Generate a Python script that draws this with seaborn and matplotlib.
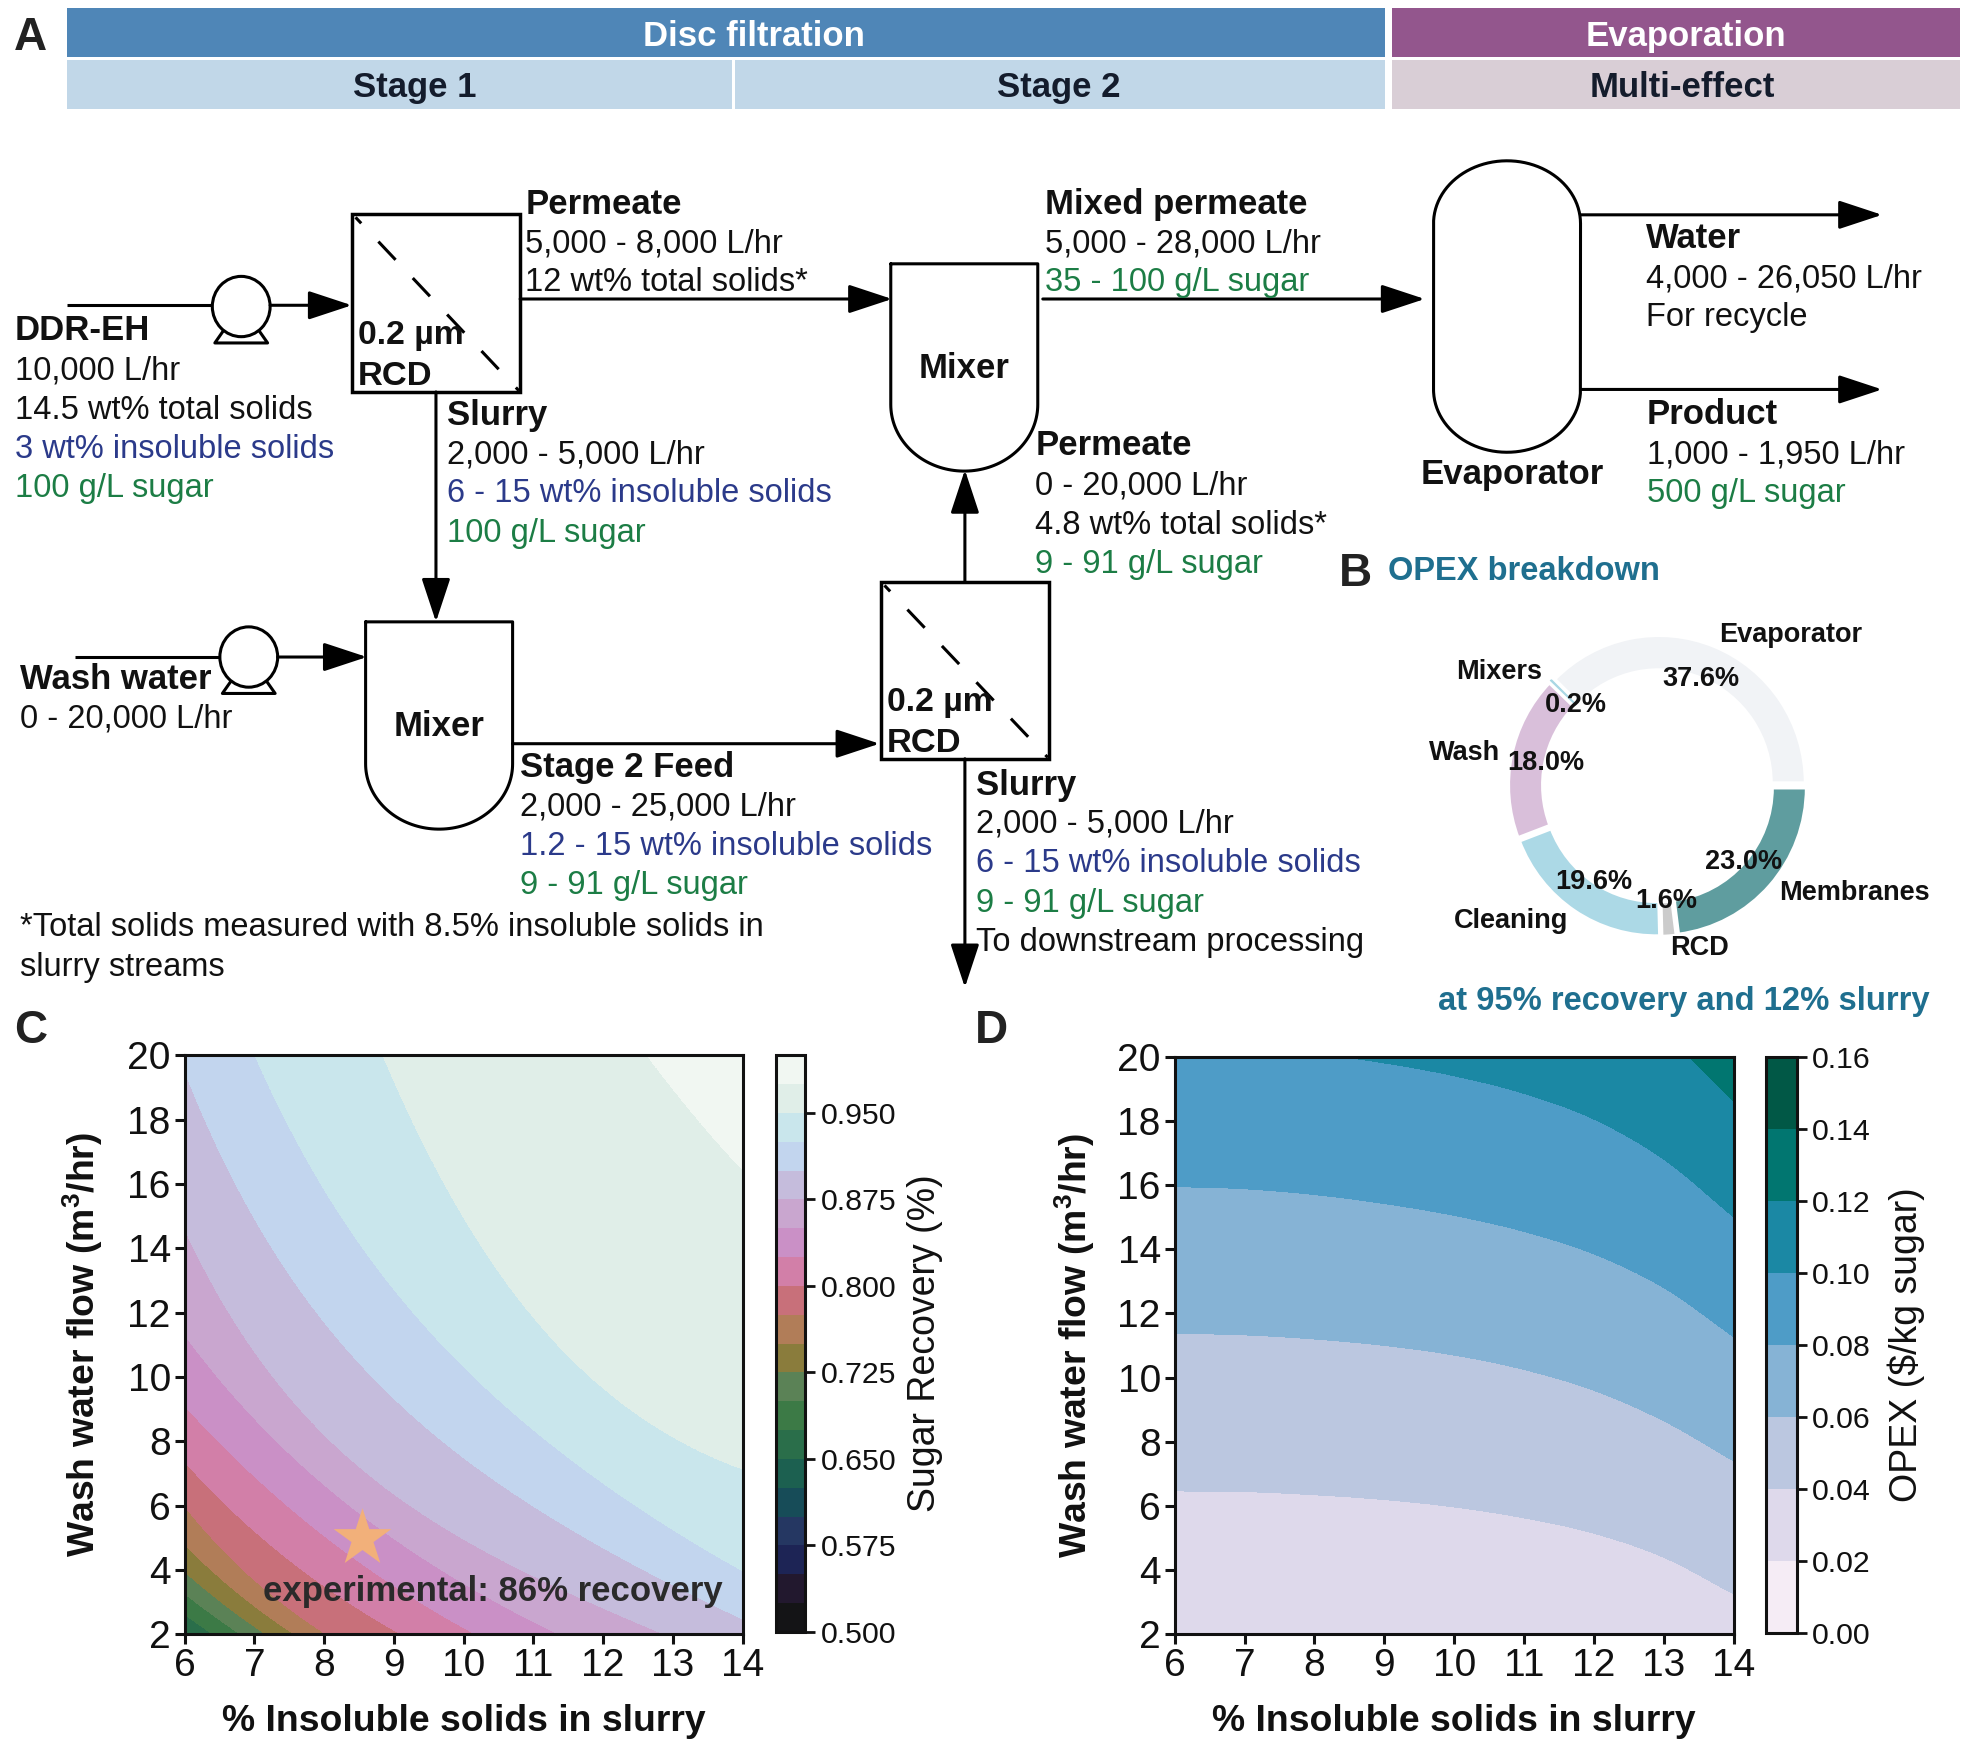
import numpy as np
import matplotlib
matplotlib.use("Agg")
import matplotlib.pyplot as plt
from matplotlib.colors import ListedColormap
from matplotlib.patches import Rectangle, Ellipse
import seaborn as sns

# ---------- data ----------
x_read = [6, 7, 8, 9, 10, 11, 12, 13, 14]

recovery_levels = [0.50, 0.65, 0.675, 0.70, 0.725, 0.75, 0.775, 0.80, 0.825, 0.85, 0.875, 0.90, 0.925, 0.95, 0.975, 1.0]
rec_low = [-60, -60, -60, -60, -60, -60, -60, -60, -60]
rec_650 = [2.1, 0.8, -0.6, -1.7, -2.6, -3.4, -4.1, -4.7, -5.3]
rec_675 = [2.55, 1.3, -0.1, -1.2, -2.1, -2.9, -3.6, -4.2, -4.8]
rec_700 = [3.2, 1.85, 0.4, -0.7, -1.6, -2.4, -3.1, -3.7, -4.3]
rec_725 = [3.95, 2.25, 0.9, -0.2, -1.1, -1.9, -2.6, -3.2, -3.8]
rec_750 = [4.8, 2.9, 1.4, 0.3, -0.6, -1.4, -2.1, -2.7, -3.3]
rec_775 = [5.9, 3.9, 1.9, 0.8, -0.1, -0.9, -1.6, -2.2, -2.8]
rec_800 = [7.3, 5.3, 3.6, 2.0, 1.0, 0.1, -0.7, -1.4, -2.0]
rec_825 = [9.1, 6.9, 5.1, 3.6, 2.1, 1.1, 0.2, -0.6, -1.3]
rec_850 = [11.4, 8.6, 6.6, 5.0, 3.7, 2.4, 1.3, 0.4, -0.4]
rec_875 = [14.65, 10.7, 8.2, 6.4, 5.0, 3.8, 2.8, 1.9, 1.0]
rec_900 = [19.6, 14.8, 11.7, 9.4, 7.5, 6.0, 4.7, 3.5, 2.5]
rec_925 = [26, 20.1, 15.7, 12.7, 10.4, 8.4, 6.7, 5.2, 4.0]
rec_950 = [40, 32, 25, 19.2, 14.8, 11.8, 9.7, 8.2, 7.1]
rec_975 = [48, 42, 36, 32, 28, 25, 22, 19, 16.4]
rec_top = [90, 90, 90, 90, 90, 90, 90, 90, 90]
recovery_curves = [rec_low, rec_650, rec_675, rec_700, rec_725, rec_750, rec_775, rec_800,
                   rec_825, rec_850, rec_875, rec_900, rec_925, rec_950, rec_975, rec_top]
recovery_edges = [0.5 + 0.025 * i for i in range(21)]
recovery_ticks = [0.5, 0.575, 0.65, 0.725, 0.8, 0.875, 0.95]
recovery_bands = ["#141416", "#22182e", "#1d2455", "#253762", "#174c58", "#1c6050", "#2a6e4a", "#3c7a46",
                  "#5b8256", "#8a7c3c", "#b17d58", "#c8707a", "#d27fa8", "#ca90c6", "#c9a6cf", "#c5bcdc",
                  "#c2d5ee", "#c9e6ec", "#e0eee8", "#f1f7f2"]

opex_levels = [0.0, 0.02, 0.04, 0.06, 0.08, 0.10, 0.12, 0.14, 0.16]
opex_000 = [-20, -20, -20, -20, -20, -20, -20, -20, -20]
opex_020 = [0.5, 0.5, 0.4, 0.3, 0.2, 0.1, 0.0, -0.2, -0.5]
opex_040 = [6.47, 6.45, 6.35, 6.2, 5.97, 5.63, 5.15, 4.4, 3.26]
opex_060 = [11.38, 11.33, 11.2, 11.0, 10.7, 10.25, 9.6, 8.65, 7.4]
opex_080 = [15.95, 15.88, 15.7, 15.42, 15.05, 14.55, 13.85, 12.8, 11.27]
opex_100 = [20.4, 20.3, 20.1, 19.8, 19.4, 18.85, 18.05, 16.8, 15.0]
opex_120 = [24.6, 24.5, 24.3, 24.0, 23.6, 23.1, 22.2, 20.7, 18.6]
opex_140 = [34, 34, 33, 32, 31, 30, 29, 28, 27]
opex_160 = [60, 60, 60, 60, 60, 60, 60, 60, 60]
opex_curves = [opex_000, opex_020, opex_040, opex_060, opex_080, opex_100, opex_120, opex_140, opex_160]

pie_labels = ["Evaporator", "Mixers", "Wash", "Cleaning", "RCD", "Membranes"]
pie_values = [37.6, 0.2, 18.0, 19.6, 1.6, 23.0]
pie_colors = ["#f1f3f6", "#a9d7e4", "#d9bfda", "#acd9e6", "#cbcbcb", "#5f9d9f"]

x_ticks = list(range(6, 15))
y_ticks = list(range(2, 21, 2))

# ---------- style ----------
sns.set_theme(style="ticks")
FONT = ["Liberation Sans", "DejaVu Sans"]
plt.rcParams["font.family"] = FONT
plt.rcParams["mathtext.default"] = "regular"
plt.rcParams["mathtext.fontset"] = "custom"
plt.rcParams["mathtext.rm"] = "Liberation Sans"

BLUE = "#2b3a8a"
GREEN = "#1c7d45"
DARK = "#111111"
TEAL = "#1f6f8f"
TXT = 23.5
BOLD = 25

fig = plt.figure(figsize=(19.70, 17.55), dpi=100)


def rect(l, t, r, b):
    """figure-fraction rectangle from positions in the 1568x1397 layout"""
    return [l / 1568, 1 - b / 1397, (r - l) / 1568, (b - t) / 1397]


def fit_curve(c, xg):
    c = np.asarray(c, float)
    shift = 5 - c.min()
    return np.exp(np.polyval(np.polyfit(x_read, np.log(c + shift), 3), xg)) - shift


def through_curve(c, xg):
    xr = np.asarray(x_read, float)
    c = np.asarray(c, float)
    m = np.gradient(c, xr)
    i = np.clip(np.searchsorted(xr, xg, side="right") - 1, 0, len(xr) - 2)
    t = xg - xr[i]
    return ((2 * t**3 - 3 * t**2 + 1) * c[i] + (t**3 - 2 * t**2 + t) * m[i]
            + (-2 * t**3 + 3 * t**2) * c[i + 1] + (t**3 - t**2) * m[i + 1])


def field(curves, levels, xg, yg, smoother):
    smooth = np.array([smoother(c, xg) for c in curves])
    smooth = np.maximum.accumulate(smooth, axis=0) + 1e-6 * np.arange(len(curves))[:, None]
    return np.array([np.interp(yg, smooth[:, i], levels) for i in range(len(xg))]).T


xg = np.linspace(6, 14, 400)


def contour_panel(box, cbox, curves, levels, edges, cmap, ticks, fmt, clabel, lab_x, ytop, cpad, smoother):
    ax = fig.add_axes(rect(*box))
    yg = np.linspace(2, ytop, 500)
    Z = field(curves, levels, xg, yg, smoother)
    cf = ax.contourf(xg, yg, Z, levels=edges, cmap=cmap, antialiased=False)
    ax.set_ylim(2, 20)
    ax.set_xticks(x_ticks)
    ax.set_yticks(y_ticks)
    ax.tick_params(labelsize=28, length=7, width=2.2, pad=3, colors=DARK)
    for s in ax.spines.values():
        s.set_linewidth(2.2)
        s.set_color(DARK)
    ax.set_xlabel("% Insoluble solids in slurry", fontsize=26.9, fontweight="bold", va="center", color=DARK)
    ax.xaxis.set_label_coords(0.5, -0.150)
    ax.set_ylabel("Wash water flow (m$^{3}$/hr)", fontsize=26.9, fontweight="bold", va="center", color=DARK)
    ax.yaxis.set_label_coords(lab_x, 0.5)
    cax = fig.add_axes(rect(*cbox))
    cb = fig.colorbar(cf, cax=cax)
    cb.set_ticks(ticks)
    cb.set_ticklabels([fmt % t for t in ticks])
    cb.ax.tick_params(labelsize=21.8, length=7, width=2, pad=4, colors=DARK)
    cb.outline.set_linewidth(2.2)
    cb.outline.set_edgecolor(DARK)
    cb.set_label(clabel, fontsize=27, labelpad=cpad, color=DARK)
    return ax


cube_bands = ListedColormap(sns.color_palette(recovery_bands))
pubugn = sns.color_palette("PuBuGn", as_cmap=True)

axC = contour_panel((147, 840, 591, 1301), (618, 840, 641, 1299), recovery_curves, recovery_levels,
                    recovery_edges, cube_bands, recovery_ticks, "%.3f",
                    "Sugar Recovery (%)", -0.183, 20, 8, fit_curve)
axD = contour_panel((935, 841, 1380, 1301), (1406, 841, 1430, 1300), opex_curves, opex_levels,
                    opex_levels, pubugn, opex_levels, "%.2f", "OPEX ($/kg sugar)", -0.178, 19.93, 12, through_curve)

axC.scatter([8.55], [5], marker="*", s=1900, color="#f2b07a", linewidths=0, zorder=5)
axC.text(7.13, 3.33, "experimental: 86% recovery", fontsize=25, fontweight="bold",
         color="#2a2a2a", va="center", ha="left", zorder=6)

# ---------- donut ----------
cx, cy, rx, ry = 1319.5, 625.5, 119 / 1.02, 120 / 1.02
axP = fig.add_axes(rect(cx - rx, cy - ry, cx + rx, cy + ry))
wedges, _, _ = axP.pie(pie_values, labels=pie_labels, colors=pie_colors, startangle=0, counterclock=True,
                       autopct="%1.1f%%", pctdistance=0.76, labeldistance=1.08, explode=[0.02] * 6,
                       wedgeprops=dict(width=0.235, edgecolor="white", linewidth=2.5),
                       textprops=dict(fontsize=19.5, fontweight="bold", color=DARK))
wedges[1].set_edgecolor(pie_colors[1])
wedges[1].set_linewidth(1.0)
axP.set_aspect("auto")
axP.set_xlim(-1, 1)
axP.set_ylim(-1, 1)
axP.patch.set_alpha(0)
for ch in axP.patches:
    ch.set_clip_on(False)

# ---------- overlay in layout coordinates ----------
ov = fig.add_axes([0, 0, 1, 1], zorder=10)
ov.set_xlim(0, 1568)
ov.set_ylim(1397, 0)
ov.axis("off")
ov.patch.set_alpha(0)


def label(x, y, s, **kw):
    ov.text(x, y + 2, s, **kw)


bars = [
    (53, 6, 1102, 45, "#4f86b7"), (1108, 6, 1560, 45, "#93568d"),
    (53, 48, 583, 87, "#c1d7e8"), (585, 48, 1102, 87, "#c1d7e8"), (1108, 48, 1560, 87, "#d9ced6"),
]
for l, t, r, b, c in bars:
    ov.add_patch(Rectangle((l, t), r - l, b - t, facecolor=c, edgecolor="none"))
for x, y, s, c in [(600, 27, "Disc filtration", "white"), (1342, 27, "Evaporation", "white"),
                   (330, 68, "Stage 1", "#141c2c"), (843, 68, "Stage 2", "#141c2c"),
                   (1339, 68, "Multi-effect", "#141c2c")]:
    label(x, y, s, color=c, fontsize=25, fontweight="bold", ha="center", va="center")

for x, y, s in [(24, 28, "A"), (1079, 455, "B"), (24, 819, "C"), (789, 819, "D")]:
    label(x, y, s, fontsize=33, fontweight="bold", color="#222222", ha="center", va="center")

LW = 2.2


def arrow(x0, y0, x1, y1):
    ov.annotate("", xy=(x1, y1), xytext=(x0, y0),
                arrowprops=dict(arrowstyle="-|>,head_length=1.0,head_width=0.33", mutation_scale=27,
                                shrinkA=0, shrinkB=0, color="black", lw=LW))


def line(xs, ys):
    ov.plot(xs, ys, color="black", lw=LW, solid_capstyle="butt")


def pump(x, y):
    ov.add_patch(Ellipse((x, y), 46, 48, facecolor="white", edgecolor="black", lw=LW, zorder=3))
    line([x - 14, x - 21, x + 21, x + 14], [y + 19, y + 29, y + 29, y + 19])


def rcd(l, t, r, b):
    ov.add_patch(Rectangle((l, t), r - l, b - t, facecolor="none", edgecolor="black", lw=2.5))
    ov.plot([l + 3, r - 1], [t + 3, b - 1], color="black", lw=LW, linestyle=(5.5, (8.2, 8.2)))
    label(l + 5, b - 47, "0.2 µm", fontsize=24.3, fontweight="bold", va="center", color=DARK)
    label(l + 5, b - 14, "RCD", fontsize=24.8, fontweight="bold", va="center", color=DARK)


def mixer(l, r, t, ym, yb):
    th = np.linspace(np.pi, 0, 80)
    mid, rad = (l + r) / 2, (r - l) / 2
    xs = np.r_[l, l, mid + rad * np.cos(th), r, r, l]
    ys = np.r_[t, ym, ym + (yb - ym) * np.sin(th), ym, t, t]
    ov.plot(xs, ys, color="black", lw=LW)
    label(mid, (t + yb) / 2 - 1.5, "Mixer", fontsize=BOLD, fontweight="bold", ha="center", va="center", color=DARK)


line([53, 170], [243, 243])
pump(192, 244)
arrow(215, 243, 280, 243)
rcd(280, 170, 414, 312)
arrow(414, 238, 710, 238)
mixer(709, 826, 210, 322, 375)
arrow(830, 238, 1134, 238)

th = np.linspace(0, 2 * np.pi, 200)
ev_x = 1199.5 + 58.5 * np.cos(th)
ev_y = np.where(np.sin(th) > 0, 310 + 50 * np.sin(th), 178 + 50 * np.sin(th))
ov.plot(np.r_[ev_x, ev_x[0]], np.r_[ev_y, ev_y[0]], color="black", lw=LW)
label(1204, 376, "Evaporator", fontsize=BOLD, fontweight="bold", ha="center", va="center", color=DARK)
arrow(1258, 171, 1498, 171)
arrow(1258, 310, 1498, 310)

arrow(347, 312, 347, 495)
mixer(291, 408, 495, 608, 660)
line([60, 178], [523, 523])
pump(198, 523)
arrow(221, 523, 292, 523)
arrow(408, 592, 700, 592)
rcd(701, 463, 835, 604)
arrow(768, 463, 768, 374)
arrow(768, 604, 768, 786)

N, B, BL, GR = (DARK, "normal"), (DARK, "bold"), (BLUE, "normal"), (GREEN, "normal")
blocks = [
    (12, [(261, "DDR-EH", B), (293, "10,000 L/hr", N), (325, "14.5 wt% total solids", N),
          (356, "3 wt% insoluble solids", BL), (387, "100 g/L sugar", GR)]),
    (418, [(161, "Permeate", B), (192, "5,000 - 8,000 L/hr", N), (223, "12 wt% total solids*", N)]),
    (832, [(161, "Mixed permeate", B), (192, "5,000 - 28,000 L/hr", N), (223, "35 - 100 g/L sugar", GR)]),
    (1310, [(188, "Water", B), (220, "4,000 - 26,050 L/hr", N), (251, "For recycle", N)]),
    (1311, [(328, "Product", B), (360, "1,000 - 1,950 L/hr", N), (391, "500 g/L sugar", GR)]),
    (356, [(329, "Slurry", B), (360, "2,000 - 5,000 L/hr", N), (391, "6 - 15 wt% insoluble solids", BL),
           (423, "100 g/L sugar", GR)]),
    (824, [(353, "Permeate", B), (385, "0 - 20,000 L/hr", N), (416, "4.8 wt% total solids*", N),
           (447, "9 - 91 g/L sugar", GR)]),
    (16, [(539, "Wash water", B), (570, "0 - 20,000 L/hr", N)]),
    (414, [(609, "Stage 2 Feed", B), (640, "2,000 - 25,000 L/hr", N), (672, "1.2 - 15 wt% insoluble solids", BL),
           (703, "9 - 91 g/L sugar", GR)]),
    (777, [(623, "Slurry", B), (654, "2,000 - 5,000 L/hr", N), (685, "6 - 15 wt% insoluble solids", BL),
           (717, "9 - 91 g/L sugar", GR), (748, "To downstream processing", N)]),
    (16, [(736, "*Total solids measured with 8.5% insoluble solids in", N), (768, "slurry streams", N)]),
]
for x, rows in blocks:
    for y, s, (c, w) in rows:
        label(x, y, s, fontsize=BOLD if w == "bold" else TXT, color=c, fontweight=w, ha="left", va="center")

label(1105, 453, "OPEX breakdown", fontsize=23.5, fontweight="bold", color=TEAL, ha="left", va="center")
label(1340, 795, "at 95% recovery and 12% slurry", fontsize=23.6, fontweight="bold", color=TEAL, ha="center", va="center")

fig.savefig("out.png", dpi=100, facecolor="white")
